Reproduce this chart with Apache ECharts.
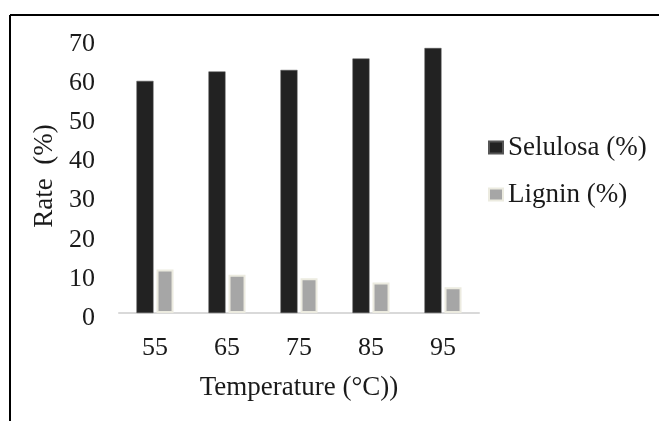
<!DOCTYPE html>
<html>
<head>
<meta charset="utf-8">
<script src="https://cdn.jsdelivr.net/npm/echarts@6/dist/echarts.min.js"></script>
<style>
html,body{margin:0;padding:0;background:#fff;}
#chart{width:659px;height:421px;}
</style>
</head>
<body>
<div id="chart"></div>
<script>
var categories = ['55', '65', '75', '85', '95'];
var selulosa = [59.3, 61.7, 62.1, 65.0, 67.7];
var lignin = [11.1, 9.8, 8.9, 7.8, 6.6];
var yTicks = [0, 10, 20, 30, 40, 50, 60, 70];

var FONT = '"Liberation Serif", "Times New Roman", serif';
var chart = echarts.init(document.getElementById('chart'), null, {renderer: 'canvas'});
chart.setOption({
  backgroundColor: '#ffffff',
  animation: false,
  graphic: [
    {type: 'line', shape: {x1: 10, y1: 15, x2: 659, y2: 15}, style: {stroke: '#000', lineWidth: 2}},
    {type: 'line', shape: {x1: 10, y1: 15, x2: 10, y2: 421}, style: {stroke: '#000', lineWidth: 2}}
  ],
  grid: {left: 119, right: 180, top: 39, bottom: 108, containLabel: false},
  legend: {
    orient: 'vertical',
    left: 488,
    top: 134,
    padding: 0,
    icon: 'rect',
    itemWidth: 14,
    itemHeight: 12,
    itemGap: 20,
    textStyle: {fontFamily: FONT, fontSize: 27, color: '#1a1a1a'},
    data: ['Selulosa (%)', 'Lignin (%)']
  },
  xAxis: {
    type: 'category',
    data: categories,
    name: 'Temperature (°C))',
    nameLocation: 'middle',
    nameGap: 61,
    nameTextStyle: {fontFamily: FONT, fontSize: 27, color: '#1a1a1a'},
    axisLine: {show: true, lineStyle: {color: '#d9d9d9', width: 2}},
    axisTick: {show: false},
    axisLabel: {fontFamily: FONT, fontSize: 26, color: '#1a1a1a', margin: 22}
  },
  yAxis: {
    type: 'value',
    min: yTicks[0],
    max: yTicks[yTicks.length - 1],
    interval: 10,
    name: 'Rate  (%)',
    nameLocation: 'middle',
    nameGap: 59,
    nameRotate: 90,
    nameTextStyle: {fontFamily: FONT, fontSize: 27, color: '#1a1a1a'},
    axisLine: {show: false},
    axisTick: {show: false},
    splitLine: {show: false},
    axisLabel: {
      margin: 24,
      formatter: '{v|{value}}',
      rich: {v: {fontFamily: FONT, fontSize: 26, color: '#1a1a1a', padding: [10, 0, 0, 0]}}
    }
  },
  series: [
    {
      name: 'Selulosa (%)',
      type: 'bar',
      data: selulosa,
      barWidth: 17,
      barGap: '18%',
      itemStyle: {color: '#222222', borderColor: '#555555', borderWidth: 0.5}
    },
    {
      name: 'Lignin (%)',
      type: 'bar',
      data: lignin,
      barWidth: 17,
      itemStyle: {color: '#a6a6a6', borderColor: '#ecebe0', borderWidth: 2}
    }
  ]
});
</script>
</body>
</html>
